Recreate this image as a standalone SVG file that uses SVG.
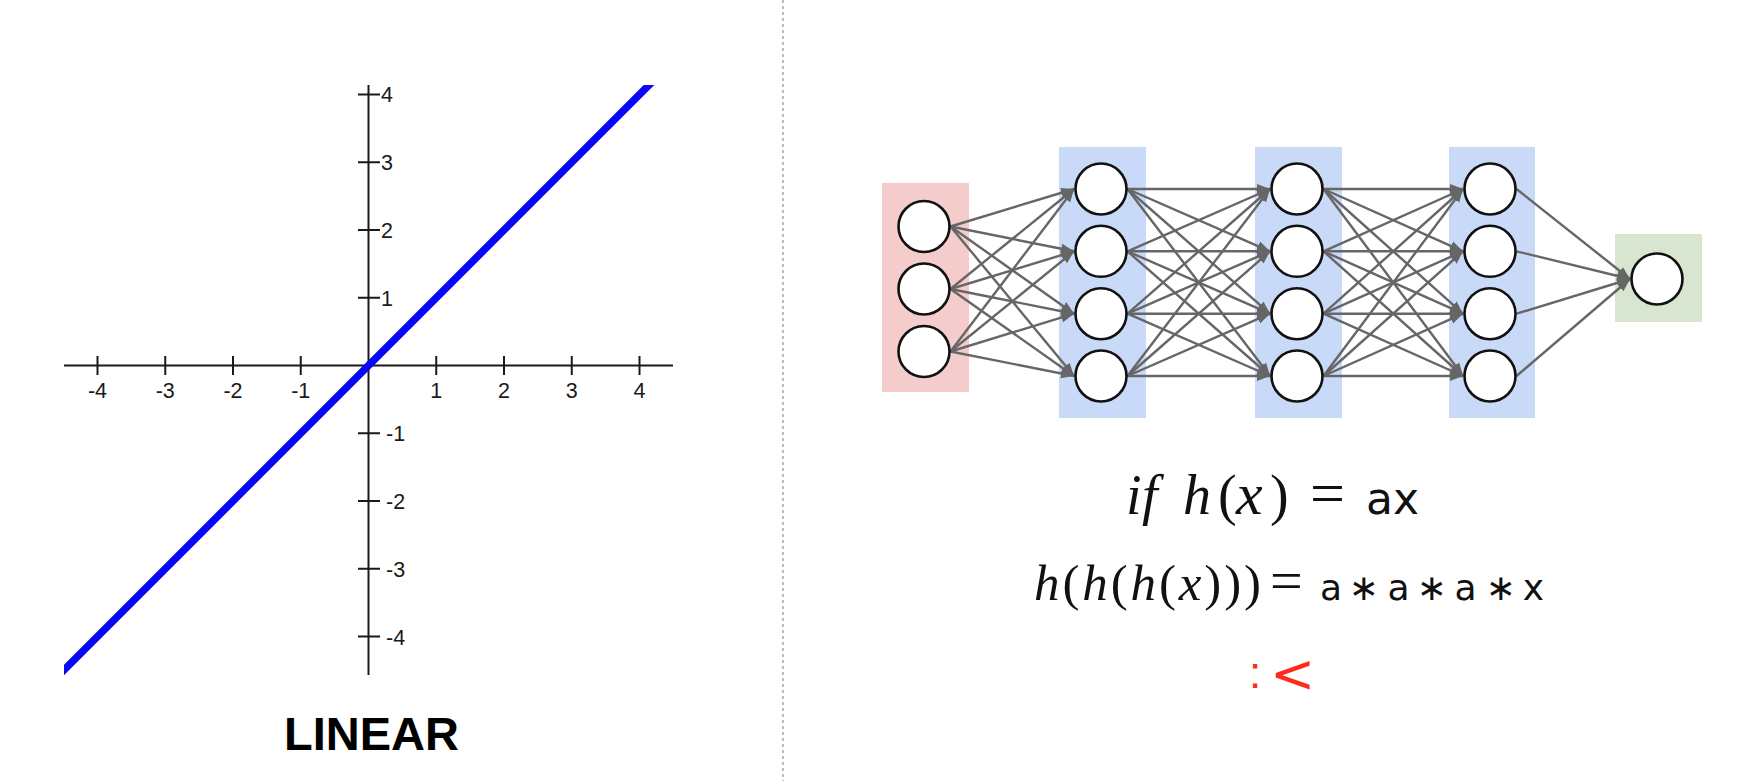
<svg xmlns="http://www.w3.org/2000/svg" width="1753" height="781" viewBox="0 0 1753 781">
<style>
.ax{stroke:#1a1a1a;stroke-width:2;fill:none}
.tl{font-family:"Liberation Sans",Arial,sans-serif;font-size:21.5px;fill:#1a1a1a}
.edge{stroke:#666;stroke-width:2.4;fill:none;marker-end:url(#ah)}
.node{fill:#fff;stroke:#111;stroke-width:2.6}
.it{font-family:"Liberation Serif","Times New Roman",serif;font-style:italic;fill:#111}
.up{font-family:"Liberation Serif","Times New Roman",serif;font-style:normal;fill:#111}
.sn{font-family:"DejaVu Sans",sans-serif;fill:#111}
.op{font-family:"DejaVu Sans ExtraLight","DejaVu Sans",sans-serif;fill:#111}
</style>
<defs>
<marker id="ah" viewBox="0 0 13 11" refX="13" refY="5.5" markerWidth="13" markerHeight="11" markerUnits="userSpaceOnUse" orient="auto">
<path d="M0,0.5 L13,5.5 L0,10.5 z" fill="#666"/>
</marker>
<clipPath id="plot"><rect x="64" y="85" width="640" height="600"/></clipPath>
</defs>
<rect width="1753" height="781" fill="#fff"/>

<!-- divider -->
<line x1="783" y1="0" x2="783" y2="781" stroke="#a8a8a8" stroke-width="1.5" stroke-dasharray="3,3"/>

<!-- graph -->
<g id="graph">
<line class="ax" x1="64" y1="365.5" x2="673" y2="365.5"/>
<line class="ax" x1="368.5" y1="85" x2="368.5" y2="675"/>
<g class="ax">
<line x1="97.5" y1="356" x2="97.5" y2="375"/>
<line x1="165.25" y1="356" x2="165.25" y2="375"/>
<line x1="233" y1="356" x2="233" y2="375"/>
<line x1="300.75" y1="356" x2="300.75" y2="375"/>
<line x1="436.25" y1="356" x2="436.25" y2="375"/>
<line x1="504" y1="356" x2="504" y2="375"/>
<line x1="571.75" y1="356" x2="571.75" y2="375"/>
<line x1="639.5" y1="356" x2="639.5" y2="375"/>
<line x1="358" y1="94.5" x2="380" y2="94.5"/>
<line x1="358" y1="162.25" x2="380" y2="162.25"/>
<line x1="358" y1="230" x2="380" y2="230"/>
<line x1="358" y1="297.75" x2="380" y2="297.75"/>
<line x1="358" y1="433.25" x2="380" y2="433.25"/>
<line x1="358" y1="501" x2="380" y2="501"/>
<line x1="358" y1="568.75" x2="380" y2="568.75"/>
<line x1="358" y1="636.5" x2="380" y2="636.5"/>
</g>
<g class="tl" text-anchor="middle">
<text x="97.5" y="398">-4</text>
<text x="165.25" y="398">-3</text>
<text x="233" y="398">-2</text>
<text x="300.75" y="398">-1</text>
<text x="436.25" y="398">1</text>
<text x="504" y="398">2</text>
<text x="571.75" y="398">3</text>
<text x="639.5" y="398">4</text>
</g>
<g class="tl">
<text x="381" y="102">4</text>
<text x="381" y="170">3</text>
<text x="381" y="238">2</text>
<text x="381" y="305.5">1</text>
<text x="386" y="441">-1</text>
<text x="386" y="509">-2</text>
<text x="386" y="576.5">-3</text>
<text x="386" y="644.5">-4</text>
</g>
<line x1="30" y1="704" x2="690" y2="44" stroke="#0808f5" stroke-width="7.5" clip-path="url(#plot)"/>
<text x="371.5" y="750" text-anchor="middle" font-family="Liberation Sans,Arial,sans-serif" font-weight="bold" font-size="47" fill="#000">LINEAR</text>
</g>

<!-- layer backgrounds -->
<g id="layers">
<rect id="input-layer" x="882" y="183" width="87" height="209" fill="#f4cccc"/>
<rect id="hidden1-layer" x="1059" y="147" width="87" height="271" fill="#c9daf8"/>
<rect id="hidden2-layer" x="1255" y="147" width="87" height="271" fill="#c9daf8"/>
<rect id="hidden3-layer" x="1449" y="147" width="86" height="271" fill="#c9daf8"/>
<rect id="output-layer" x="1615" y="234" width="87" height="88" fill="#d7e5d1"/>
</g>

<!-- connectors -->
<g id="connectors">
<line class="edge" x1="950.5" y1="226.5" x2="1074" y2="189"/>
<line class="edge" x1="950.5" y1="226.5" x2="1074" y2="251.3"/>
<line class="edge" x1="950.5" y1="226.5" x2="1074" y2="313.7"/>
<line class="edge" x1="950.5" y1="226.5" x2="1074" y2="376"/>
<line class="edge" x1="950.5" y1="289" x2="1074" y2="189"/>
<line class="edge" x1="950.5" y1="289" x2="1074" y2="251.3"/>
<line class="edge" x1="950.5" y1="289" x2="1074" y2="313.7"/>
<line class="edge" x1="950.5" y1="289" x2="1074" y2="376"/>
<line class="edge" x1="950.5" y1="351.5" x2="1074" y2="189"/>
<line class="edge" x1="950.5" y1="351.5" x2="1074" y2="251.3"/>
<line class="edge" x1="950.5" y1="351.5" x2="1074" y2="313.7"/>
<line class="edge" x1="950.5" y1="351.5" x2="1074" y2="376"/>

<line class="edge" x1="1127.5" y1="189" x2="1270" y2="189"/>
<line class="edge" x1="1127.5" y1="189" x2="1270" y2="251.3"/>
<line class="edge" x1="1127.5" y1="189" x2="1270" y2="313.7"/>
<line class="edge" x1="1127.5" y1="189" x2="1270" y2="376"/>
<line class="edge" x1="1127.5" y1="251.3" x2="1270" y2="189"/>
<line class="edge" x1="1127.5" y1="251.3" x2="1270" y2="251.3"/>
<line class="edge" x1="1127.5" y1="251.3" x2="1270" y2="313.7"/>
<line class="edge" x1="1127.5" y1="251.3" x2="1270" y2="376"/>
<line class="edge" x1="1127.5" y1="313.7" x2="1270" y2="189"/>
<line class="edge" x1="1127.5" y1="313.7" x2="1270" y2="251.3"/>
<line class="edge" x1="1127.5" y1="313.7" x2="1270" y2="313.7"/>
<line class="edge" x1="1127.5" y1="313.7" x2="1270" y2="376"/>
<line class="edge" x1="1127.5" y1="376" x2="1270" y2="189"/>
<line class="edge" x1="1127.5" y1="376" x2="1270" y2="251.3"/>
<line class="edge" x1="1127.5" y1="376" x2="1270" y2="313.7"/>
<line class="edge" x1="1127.5" y1="376" x2="1270" y2="376"/>

<line class="edge" x1="1323.5" y1="189" x2="1463" y2="189"/>
<line class="edge" x1="1323.5" y1="189" x2="1463" y2="251.3"/>
<line class="edge" x1="1323.5" y1="189" x2="1463" y2="313.7"/>
<line class="edge" x1="1323.5" y1="189" x2="1463" y2="376"/>
<line class="edge" x1="1323.5" y1="251.3" x2="1463" y2="189"/>
<line class="edge" x1="1323.5" y1="251.3" x2="1463" y2="251.3"/>
<line class="edge" x1="1323.5" y1="251.3" x2="1463" y2="313.7"/>
<line class="edge" x1="1323.5" y1="251.3" x2="1463" y2="376"/>
<line class="edge" x1="1323.5" y1="313.7" x2="1463" y2="189"/>
<line class="edge" x1="1323.5" y1="313.7" x2="1463" y2="251.3"/>
<line class="edge" x1="1323.5" y1="313.7" x2="1463" y2="313.7"/>
<line class="edge" x1="1323.5" y1="313.7" x2="1463" y2="376"/>
<line class="edge" x1="1323.5" y1="376" x2="1463" y2="189"/>
<line class="edge" x1="1323.5" y1="376" x2="1463" y2="251.3"/>
<line class="edge" x1="1323.5" y1="376" x2="1463" y2="313.7"/>
<line class="edge" x1="1323.5" y1="376" x2="1463" y2="376"/>

<line class="edge" x1="1516.5" y1="189" x2="1630" y2="279"/>
<line class="edge" x1="1516.5" y1="251.3" x2="1630" y2="279"/>
<line class="edge" x1="1516.5" y1="313.7" x2="1630" y2="279"/>
<line class="edge" x1="1516.5" y1="376" x2="1630" y2="279"/>
</g>

<!-- nodes -->
<g id="in1"><circle class="node" cx="924" cy="226.5" r="25.5"/></g>
<g id="in2"><circle class="node" cx="924" cy="289" r="25.5"/></g>
<g id="in3"><circle class="node" cx="924" cy="351.5" r="25.5"/></g>
<g id="h1a"><circle class="node" cx="1101" cy="189" r="25.5"/></g>
<g id="h1b"><circle class="node" cx="1101" cy="251.3" r="25.5"/></g>
<g id="h1c"><circle class="node" cx="1101" cy="313.7" r="25.5"/></g>
<g id="h1d"><circle class="node" cx="1101" cy="376" r="25.5"/></g>
<g id="h2a"><circle class="node" cx="1297" cy="189" r="25.5"/></g>
<g id="h2b"><circle class="node" cx="1297" cy="251.3" r="25.5"/></g>
<g id="h2c"><circle class="node" cx="1297" cy="313.7" r="25.5"/></g>
<g id="h2d"><circle class="node" cx="1297" cy="376" r="25.5"/></g>
<g id="h3a"><circle class="node" cx="1490" cy="189" r="25.5"/></g>
<g id="h3b"><circle class="node" cx="1490" cy="251.3" r="25.5"/></g>
<g id="h3c"><circle class="node" cx="1490" cy="313.7" r="25.5"/></g>
<g id="h3d"><circle class="node" cx="1490" cy="376" r="25.5"/></g>
<g id="out"><circle class="node" cx="1657" cy="279" r="25.5"/></g>

<!-- formulas -->
<g id="formula1">
<text class="it" y="514" font-size="56"><tspan x="1126">i</tspan><tspan x="1142">f</tspan><tspan x="1183">h</tspan><tspan class="up" x="1218">(</tspan><tspan x="1236" font-size="60">x</tspan><tspan class="up" x="1270">)</tspan></text>
<text class="up" x="1310" y="514" font-size="62">=</text>
<text class="sn" x="1366" y="514" font-size="44">ax</text>
</g>
<g id="formula2">
<text class="it" x="1034" y="600" font-size="51" textLength="227" lengthAdjust="spacing">h<tspan class="up">(</tspan>h<tspan class="up">(</tspan>h<tspan class="up">(</tspan>x<tspan class="up">)))</tspan></text>
<text class="up" x="1270" y="600" font-size="58">=</text>
<text class="sn" y="600" font-size="36" text-anchor="middle"><tspan x="1331">a</tspan><tspan class="op" x="1363.5">∗</tspan><tspan x="1398.5">a</tspan><tspan class="op" x="1431.5">∗</tspan><tspan x="1465.5">a</tspan><tspan class="op" x="1500.5">∗</tspan><tspan x="1533.5">x</tspan></text>
</g>
<g id="sad">
<text x="1249" y="688" font-family="Liberation Sans,Arial,sans-serif" font-size="44" fill="#ff2a1a">:</text>
<text x="1270" y="692" font-family="DejaVu Sans,sans-serif" font-size="54" fill="#ff2a1a">&lt;</text>
</g>
</svg>
